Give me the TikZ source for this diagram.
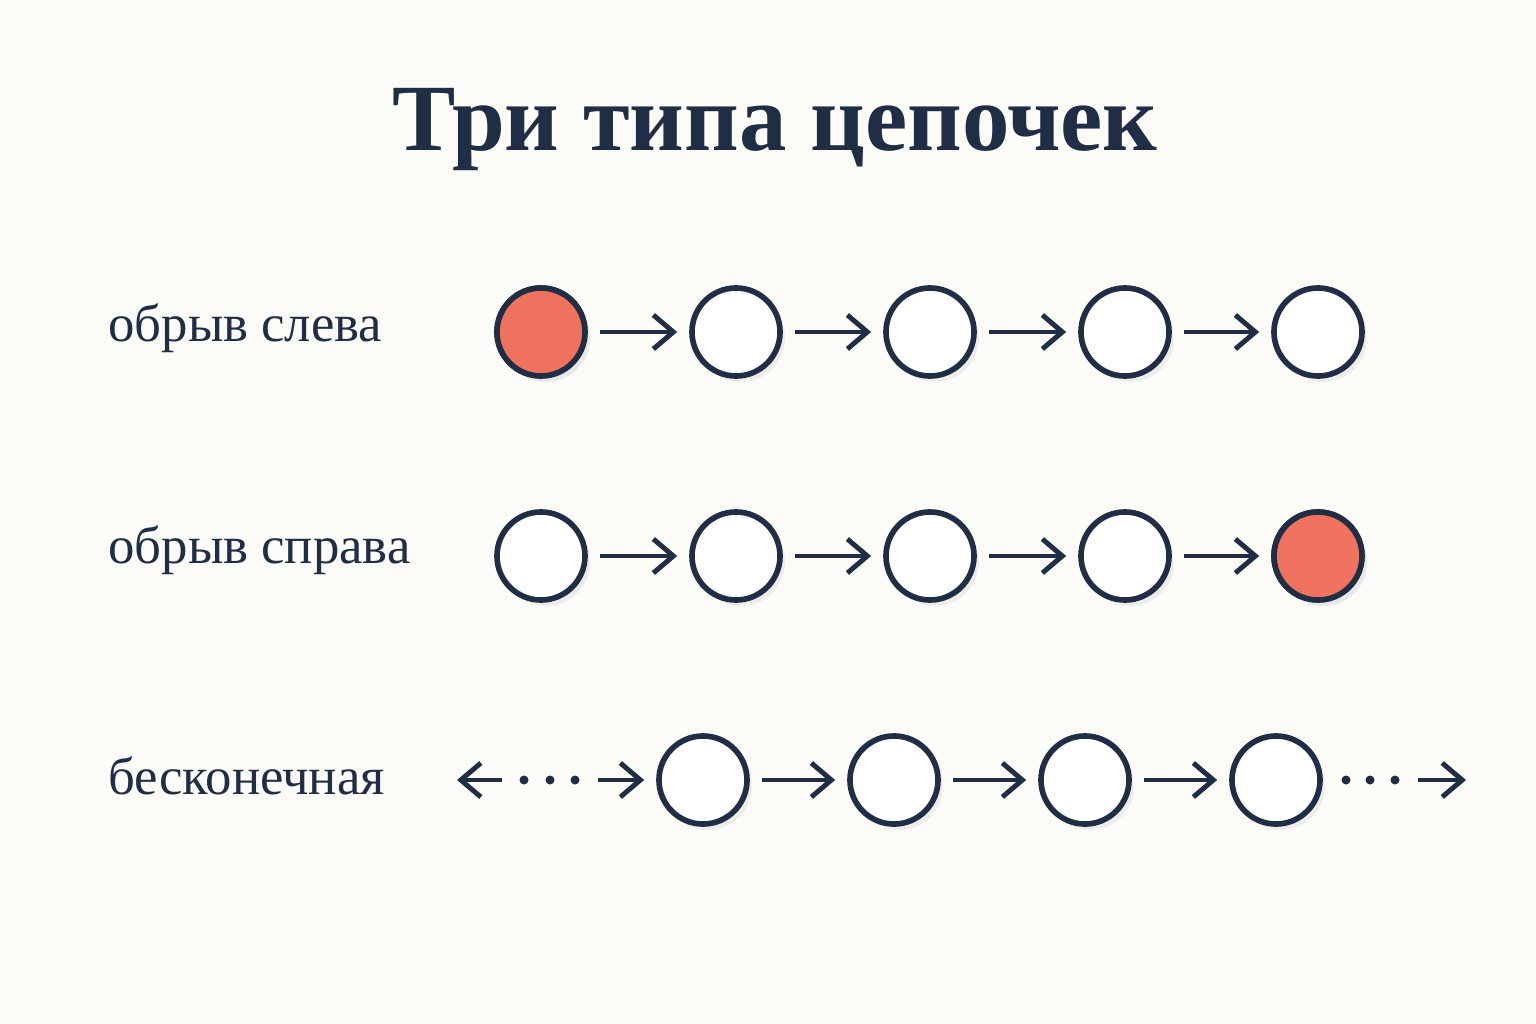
\documentclass[tikz,border=0pt]{standalone}
\usepackage{fontspec}
\setmainfont{Liberation Serif}
\usetikzlibrary{arrows.meta,shadows}
\definecolor{ink}{HTML}{1F2D45}
\definecolor{hot}{HTML}{EF735E}
\definecolor{paper}{HTML}{FCFBF7}
\tikzset{
  link/.style={circle, draw=ink, line width=1.6pt, minimum size=0.88cm, fill=white,
    drop shadow={shadow xshift=0.05cm, shadow yshift=-0.06cm, fill=black!10, opacity=0.6}},
  cut/.style={link, fill=hot},
  hop/.style={-{Straight Barb[length=2mm,width=3.4mm]}, draw=ink, line width=1.4pt,
    shorten <=0.12cm, shorten >=0.12cm},
  dot/.style={circle, fill=ink, inner sep=0pt, minimum size=0.09cm},
  lab/.style={anchor=west, text=ink, font=\fontsize{15}{17}\selectfont}
}
\begin{document}
\begin{tikzpicture}[x=0.01cm,y=-0.01cm]
        \fill[paper] (0,0) rectangle (1536,1024);
        \node[text=ink, font=\fontsize{27}{31}\bfseries] (title) at (775,130) {Три типа цепочек};
        % rows with a broken end
        \node[lab] (l1) at (96,328) {обрыв слева};
        \node[lab] (l2) at (96,550) {обрыв справа};
        \node[lab] (l3) at (96,776) {бесконечная};
        \foreach \x [count=\i] in {541,736,930,1125,1318} {
            \node[link] (a\i) at (\x,332) {};
            \node[link] (b\i) at (\x,556) {};
        }
        \node[cut] at (a1) {};
        \node[cut] at (b5) {};
        \foreach \i [evaluate=\i as \j using int(\i+1)] in {1,...,4} {
            \draw[hop] (a\i) -- (a\j);
            \draw[hop] (b\i) -- (b\j);
        }
        % endless row
        \foreach \x [count=\i] in {703,894,1085,1276}
            \node[link] (c\i) at (\x,780) {};
        \foreach \i [evaluate=\i as \j using int(\i+1)] in {1,...,3}
            \draw[hop] (c\i) -- (c\j);
        \coordinate (w0) at (457,780);
        \coordinate (w1) at (502,780);
        \coordinate (w2) at (598,780);
        \coordinate (e1) at (1418,780);
        \coordinate (e2) at (1466,780);
        \draw[hop, shorten <=0pt, shorten >=0pt] (w1) -- (w0);
        \draw[hop, shorten <=0pt] (w2) -- (c1);
        \draw[hop, shorten <=0pt, shorten >=0pt] (e1) -- (e2);
        \foreach \x in {524,550,575,1346,1370,1395}
            \node[dot] at (\x,780) {};
\end{tikzpicture}
\end{document}
